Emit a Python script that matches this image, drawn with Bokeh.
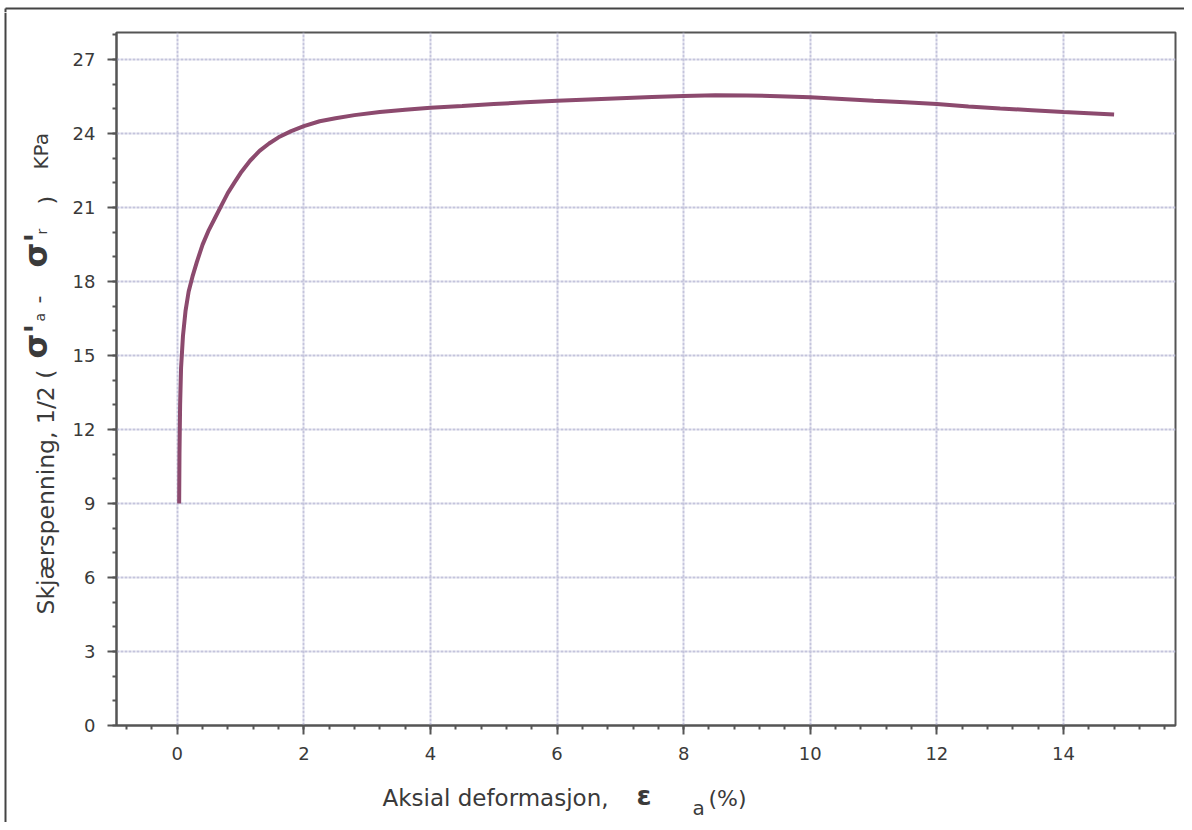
import math
from bokeh.plotting import figure
from bokeh.models import Range1d, SingleIntervalTicker
from bokeh.layouts import row, column
from bokeh.core.properties import value
from bokeh.embed import file_html
from bokeh.resources import INLINE

# ---- data ----
strain = [0.03, 0.035, 0.045, 0.06, 0.09, 0.13, 0.18, 0.24, 0.31, 0.40, 0.50, 0.60,
          0.70, 0.80, 0.90, 1.00, 1.15, 1.30, 1.45, 1.60, 1.80, 2.00, 2.25, 2.50,
          2.80, 3.20, 3.60, 4.00, 4.50, 5.00, 5.50, 6.00, 6.50, 7.00, 7.50, 8.00,
          8.50, 9.00, 9.50, 10.00, 10.50, 11.00, 11.50, 12.00, 12.50, 13.00, 13.50,
          14.00, 14.40, 14.80]
stress = [9.0, 11.0, 13.0, 14.5, 15.8, 16.8, 17.6, 18.2, 18.8, 19.5, 20.1, 20.6,
          21.1, 21.6, 22.0, 22.4, 22.9, 23.3, 23.6, 23.85, 24.1, 24.3, 24.5, 24.62,
          24.75, 24.88, 24.97, 25.05, 25.12, 25.2, 25.27, 25.33, 25.38, 25.43, 25.48, 25.53,
          25.56, 25.55, 25.52, 25.47, 25.4, 25.33, 25.27, 25.2, 25.1, 25.02, 24.95,
          24.88, 24.83, 24.78]

x_tick_step = 2
y_tick_step = 3

FONT = "DejaVu Sans"
TXT = "#3a3a3a"
EDGE = "#444444"

W = 1184
TOP_H = 12          # strip above the chart (outer border line)
YL_W = 60           # strip left of the chart holding the y-axis title
XL_H = 47           # strip below the chart holding the x-axis title
TOTAL_H = 822
MAIN_W = W - YL_W
MAIN_H = TOTAL_H - TOP_H - XL_H
BORDER_L, BORDER_R = 56, 9
FRAME_X0 = YL_W + BORDER_L            # page x of the chart frame's left edge
FRAME_X1 = W - BORDER_R               # page x of the chart frame's right edge


def blank(width, height, xr, yr):
    """Helper figure whose data coordinates equal page pixels (y downwards)."""
    f = figure(width=width, height=height, output_backend="svg", toolbar_location=None,
               x_range=Range1d(*xr), y_range=Range1d(*yr),
               x_axis_type=None, y_axis_type=None,
               min_border=0, min_border_left=0, min_border_right=0,
               min_border_top=0, min_border_bottom=0)
    f.outline_line_color = None
    f.background_fill_color = "white"
    f.border_fill_color = "white"
    f.grid.visible = False
    return f


def put(f, text, x, y, size, angle=0.0, bold=False):
    f.text(x=[x], y=[y], text=[text], angle=angle,
           text_font=value(FONT), text_font_size=size,
           text_font_style="bold" if bold else "normal",
           text_color=TXT, text_align="left", text_baseline="alphabetic")


# ---- top strip: outer scan border ----
top = blank(W, TOP_H, (0, W), (TOP_H, 0))
top.segment(x0=[5, 5], y0=[8, 8], x1=[W, 5], y1=[8, TOP_H], line_color=EDGE, line_width=2)

# ---- main chart ----
p = figure(width=MAIN_W, height=MAIN_H, output_backend="svg", toolbar_location=None,
           x_range=Range1d(-0.96, 15.77), y_range=Range1d(0, 28.1),
           min_border_left=BORDER_L, min_border_top=20, min_border_right=BORDER_R,
           min_border_bottom=50)
p.background_fill_color = "white"
p.border_fill_color = "white"
p.outline_line_color = "#555555"
p.outline_line_width = 2

p.xaxis.ticker = SingleIntervalTicker(interval=x_tick_step, num_minor_ticks=5)
p.yaxis.ticker = SingleIntervalTicker(interval=y_tick_step, num_minor_ticks=3)
p.xgrid.ticker = p.xaxis.ticker
p.ygrid.ticker = p.yaxis.ticker

for ax in (p.xaxis, p.yaxis):
    ax.axis_line_color = "#555555"
    ax.axis_line_width = 2
    ax.major_tick_line_color = "#555555"
    ax.major_tick_line_width = 2
    ax.major_tick_out = 9
    ax.major_tick_in = 0
    ax.minor_tick_line_color = "#555555"
    ax.minor_tick_line_width = 2
    ax.minor_tick_out = 4
    ax.minor_tick_in = 0
    ax.major_label_text_font = FONT
    ax.major_label_text_font_size = "18px"
    ax.major_label_text_color = TXT
    ax.major_label_standoff = 12

for g in (p.xgrid, p.ygrid):
    g.grid_line_color = "#c4c4dc"
    g.grid_line_width = 2
    g.grid_line_dash = "3 1"

p.line(strain, stress, line_color="#8c4a6e", line_width=4)

# ---- left strip: y-axis title (rotated pieces) ----
yl = blank(YL_W, TOTAL_H - TOP_H, (0, YL_W), (TOTAL_H, TOP_H))
yl.segment(x0=[5], y0=[TOP_H], x1=[5], y1=[TOTAL_H], line_color=EDGE, line_width=2)
R = math.pi / 2
put(yl, "Skjærspenning, 1/2 (", 45, 614, "23.5px", angle=R)
put(yl, "\u03c3'", 35, 358, "32px", angle=R, bold=True)
put(yl, "a", 39, 321, "14px", angle=R)
put(yl, "-", 37, 303, "22px", angle=R)
put(yl, "\u03c3'", 35, 267, "32px", angle=R, bold=True)
put(yl, "r", 41, 234, "14px", angle=R)
put(yl, ")", 46, 204, "22px", angle=R)
put(yl, "KPa", 40, 169, "20px", angle=R)

# ---- bottom strip: x-axis title pieces (its frame lines up with the chart frame) ----
xl = blank(MAIN_W, XL_H, (FRAME_X0, FRAME_X1), (TOTAL_H, TOTAL_H - XL_H))
put(xl, "Aksial deformasjon,", 382, 797, "23px")
put(xl, "\u03b5", 636, 795, "27px", bold=True)
put(xl, "a", 692, 807, "20px")
put(xl, "(%)", 708, 798, "22px")

layout = column(top, row(yl, column(p, xl, spacing=0), spacing=0), spacing=0)

open("out.html", "w").write(file_html(layout, INLINE))
